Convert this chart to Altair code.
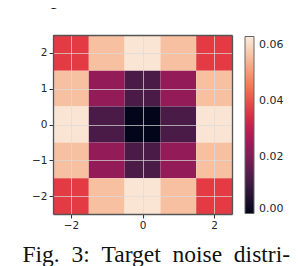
import altair as alt
import pandas as pd

# Grid cell centres and values (rows from y=2 down to y=-2)
xs = [-2, -1, 0, 1, 2]
ys = [2, 1, 0, -1, -2]
values = [
    [0.037, 0.056, 0.062, 0.056, 0.037],
    [0.056, 0.023, 0.012, 0.023, 0.056],
    [0.062, 0.012, 0.000, 0.012, 0.062],
    [0.056, 0.023, 0.012, 0.023, 0.056],
    [0.037, 0.056, 0.062, 0.056, 0.037],
]
x_ticks = [-2, 0, 2]
y_ticks = [-2, -1, 0, 1, 2]
cbar_ticks = [0.0, 0.02, 0.04, 0.06]
rocket = ["#03051a", "#35193e", "#701f57", "#ad1759", "#e13342",
          "#f37651", "#f6b48f", "#faebdd"]
top_text = "his problem."
caption = "Fig.\u20023:\u2002Target\u2002noise\u2002distri-"

rows = []
for i, yv in enumerate(ys):
    for j, xv in enumerate(xs):
        rows.append({"x": xv, "y": yv, "v": values[i][j]})
df = pd.DataFrame(rows)

frame_col = "#555555"
axis_common = dict(
    grid=True, gridColor="#dcdcdc", gridOpacity=0.7, gridWidth=1, zindex=1,
    domain=True, domainColor=frame_col, domainWidth=1.3,
    tickColor="#333333", tickSize=4, tickWidth=1,
    labelFont="DejaVu Sans", labelFontSize=10.5, labelColor="#262626",
    labelPadding=2, title=None,
)
frame_axis = dict(
    grid=False, zindex=1, domain=True, domainColor=frame_col, domainWidth=1.3,
    ticks=False, labels=False, title=None,
)
xscale = alt.Scale(domain=[-2.5, 2.5], nice=False, zero=False)
yscale = alt.Scale(domain=[-2.5, 2.5], nice=False, zero=False)

base = alt.Chart(df).transform_calculate(
    x0="datum.x - 0.5", x1="datum.x + 0.5",
    y0="datum.y - 0.5", y1="datum.y + 0.5",
)

heat = base.mark_rect(strokeWidth=0).encode(
    x=alt.X("x0:Q", scale=xscale,
            axis=alt.Axis(values=x_ticks, format="d", **axis_common)),
    x2="x1:Q",
    y=alt.Y("y0:Q", scale=yscale,
            axis=alt.Axis(values=y_ticks, format="d", **axis_common)),
    y2="y1:Q",
    color=alt.Color(
        "v:Q",
        scale=alt.Scale(domain=[0, 0.063], range=rocket, interpolate="rgb"),
        legend=alt.Legend(
            title=None, orient="none", legendX=192, legendY=1.5,
            direction="vertical", gradientLength=177, gradientThickness=9,
            gradientStrokeColor="#666666", gradientStrokeWidth=1,
            values=cbar_ticks, format=".2f",
            labelFont="DejaVu Sans", labelFontSize=11, labelColor="#262626",
            labelOffset=5, labelOverlap=False,
        ),
    ),
)

frame = base.mark_rect(opacity=0).encode(
    x=alt.X("x0:Q", scale=xscale, axis=alt.Axis(orient="top", **frame_axis)),
    x2="x1:Q",
    y=alt.Y("y0:Q", scale=yscale, axis=alt.Axis(orient="right", **frame_axis)),
    y2="y1:Q",
)

top = alt.Chart(pd.DataFrame({"t": [top_text]})).mark_text(
    font="Liberation Serif", fontSize=23.5, align="right", baseline="alphabetic",
    color="#111111",
).encode(text="t:N", x=alt.value(82), y=alt.value(-31))

cap = alt.Chart(pd.DataFrame({"t": [caption]})).mark_text(
    font="Liberation Serif", fontSize=23.5, align="left", baseline="alphabetic",
    color="#111111",
).encode(text="t:N", x=alt.value(-30.5), y=alt.value(227))

chart = alt.layer(heat, frame, top, cap).resolve_axis(
    x="independent", y="independent"
).properties(
    width=179, height=179,
    padding={"left": 45, "top": 27, "right": 58, "bottom": 52},
    autosize=alt.AutoSizeParams(type="none"),
    background="white",
).configure_view(strokeWidth=0)

chart.save("out.html", embed_options={"renderer": "svg", "actions": False})
